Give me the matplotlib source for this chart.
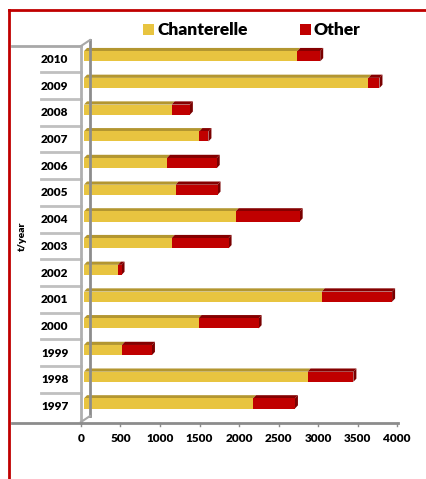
import numpy as np
import matplotlib.pyplot as plt
from matplotlib.patches import Polygon
from matplotlib.lines import Line2D
from matplotlib.transforms import blended_transform_factory

years = ['1997', '1998', '1999', '2000', '2001', '2002', '2003',
         '2004', '2005', '2006', '2007', '2008', '2009', '2010']
chanterelle = [2140, 2830, 480, 1450, 3010, 430, 1110,
               1920, 1160, 1050, 1460, 1110, 3600, 2700]
other = [530, 580, 380, 760, 890, 45, 720,
         810, 530, 630, 115, 230, 140, 290]
xticks = [0, 500, 1000, 1500, 2000, 2500, 3000, 3500, 4000]

W, H = 426, 479
FONT = 'Lato'

def fx(x):
    return x / W

def fy(y):
    return 1 - y / H

fig = plt.figure(figsize=(W / 100, H / 100), dpi=100)
fig.patch.set_facecolor('white')

# axes: x 0 at px 84, 4000 at px 400 ; y from px 422.7 (bottom) to 45 (top)
ax = fig.add_axes([fx(84), fy(422.7), fx(400) - fx(84), fy(45) - fy(422.7)])
ax.set_xlim(0, 4000)
ax.set_ylim(-0.62, 13.52)
ax.axis('off')

ypos = np.arange(len(years))
yc = ypos + 0.1
bh = 0.38
ych = '#E8C440'
ytop = '#B39630'
red = '#C00000'
rtop = '#850000'

ax.barh(yc, chanterelle, height=bh, color=ych, linewidth=0, zorder=3)
ax.barh(yc, other, left=chanterelle, height=bh, color=red, linewidth=0, zorder=3)

ddx = 38   # depth offset in data units (x)
ddy = 0.12  # depth offset in data units (y)
for i in range(len(years)):
    top = yc[i] + bh / 2
    c = chanterelle[i]
    t = c + other[i]
    ax.add_patch(Polygon([(0, top), (c, top), (c + ddx, top + ddy), (ddx, top + ddy)],
                         closed=True, color=ytop, lw=0, zorder=2))
    ax.add_patch(Polygon([(c, top), (t, top), (t + ddx, top + ddy), (c + ddx, top + ddy)],
                         closed=True, color=rtop, lw=0, zorder=2))
    bot = yc[i] - bh / 2
    ax.add_patch(Polygon([(t, bot), (t, top), (t + ddx, top + ddy), (t + ddx, bot + ddy)],
                         closed=True, color='#7A0000', lw=0, zorder=2))

# label column grid (light gray)
lg = '#C0C0C0'
bt = blended_transform_factory(fig.transFigure, ax.transData)
for b in ypos[:-1] + 0.5:
    ax.add_line(Line2D([fx(41), fx(81)], [b, b], color=lg, lw=2, transform=bt,
                       clip_on=False, zorder=1))
fig.add_artist(Line2D([fx(12), fx(81)], [fy(46), fy(46)], color='#A8A8A8', lw=2))
fig.add_artist(Line2D([fx(81), fx(81)], [fy(46), fy(422.7)], color='#B0B0B0', lw=2))
# back wall
fig.add_artist(Line2D([fx(90), fx(90)], [fy(40), fy(416)], color='#8C8C8C', lw=2))
fig.add_artist(Line2D([fx(81), fx(90)], [fy(46), fy(40)], color='#A8A8A8', lw=1.5))
fig.add_artist(Line2D([fx(81), fx(90)], [fy(422), fy(416)], color='#A8A8A8', lw=1.5))
# floor line
fig.add_artist(Line2D([fx(12), fx(398)], [fy(422.7), fy(422.7)], color='#8C8C8C', lw=2))

for yr, y in zip(years, ypos):
    ax.text(-370, y - 0.02, yr, ha='center', va='center', fontsize=8.5,
            fontweight='heavy', family=FONT, zorder=4)

for v in xticks:
    px = 81 + v * 316 / 4000
    fig.add_artist(Line2D([fx(px), fx(px)], [fy(422.7), fy(426)], color='#8C8C8C', lw=1))
    fig.text(fx(px), fy(439), str(v), ha='center', va='center', fontsize=8.5,
             fontweight='heavy', family=FONT)

fig.text(fx(22), fy(236), 't/year', rotation=90, ha='center', va='center',
         fontsize=7.5, fontweight='heavy', family=FONT)

# legend
fig.patches.append(plt.Rectangle((fx(143), fy(34.5)), fx(10.5), fy(0) - fy(10),
                                 transform=fig.transFigure, color=ych, lw=0))
fig.text(fx(157), fy(30), 'Chanterelle', ha='left', va='center', fontsize=12.5,
         fontweight='heavy', family=FONT)
fig.patches.append(plt.Rectangle((fx(300), fy(34.5)), fx(10.5), fy(0) - fy(10),
                                 transform=fig.transFigure, color=red, lw=0))
fig.text(fx(313), fy(30), 'Other', ha='left', va='center', fontsize=12.5,
         fontweight='heavy', family=FONT)

# red frame
fig.add_artist(Line2D([fx(9), fx(426)], [fy(10), fy(10)], color='#C00000', lw=2))
fig.add_artist(Line2D([fx(9), fx(9)], [fy(10), fy(479)], color='#C00000', lw=2))

fig.savefig('out.png', dpi=100, facecolor='white')
